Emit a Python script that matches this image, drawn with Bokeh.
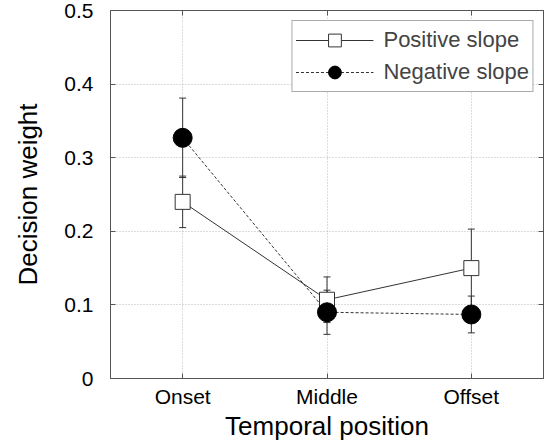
from bokeh.plotting import figure
from bokeh.models import (ColumnDataSource, Whisker, TeeHead, FixedTicker, LinearAxis,
                          Legend, LegendItem, Range1d)
from bokeh.embed import file_html
from bokeh.resources import INLINE

categories = ["Onset", "Middle", "Offset"]
xpos = [1, 2, 3]
pos_vals = [0.240, 0.107, 0.150]
pos_err = [0.035, 0.031, 0.053]
neg_vals = [0.327, 0.090, 0.087]
neg_err = [0.054, 0.030, 0.025]
yticks = [0, 0.1, 0.2, 0.3, 0.4, 0.5]
ytick_labels = ["0", "0.1", "0.2", "0.3", "0.4", "0.5"]

FONT = "Liberation Sans"
AX = "#555555"

p = figure(width=544, height=443, output_backend="svg", toolbar_location=None,
           x_range=Range1d(0.5, 3.5), y_range=Range1d(0, 0.5),
           min_border_left=110, min_border_right=1, min_border_top=10, min_border_bottom=65)
p.outline_line_color = AX
p.background_fill_color = "white"

src_p = ColumnDataSource(dict(x=xpos, y=pos_vals,
                              lo=[v - e for v, e in zip(pos_vals, pos_err)],
                              hi=[v + e for v, e in zip(pos_vals, pos_err)]))
src_n = ColumnDataSource(dict(x=xpos, y=neg_vals,
                              lo=[v - e for v, e in zip(neg_vals, neg_err)],
                              hi=[v + e for v, e in zip(neg_vals, neg_err)]))

for src in (src_p, src_n):
    w = Whisker(source=src, base="x", lower="lo", upper="hi", line_color="#333333", line_width=1,
                upper_head=TeeHead(size=7, line_color="#333333", line_width=1),
                lower_head=TeeHead(size=7, line_color="#333333", line_width=1))
    p.add_layout(w)

lp = p.line("x", "y", source=src_p, line_color="#333333", line_width=1)
ln = p.line("x", "y", source=src_n, line_color="#333333", line_width=1, line_dash="3 2")
sp = p.scatter("x", "y", source=src_p, marker="square", size=15, fill_color="white",
               line_color="#333333", line_width=1)
sn = p.scatter("x", "y", source=src_n, marker="circle", size=19, fill_color="black",
               line_color="black")

# axes
p.xaxis.ticker = FixedTicker(ticks=xpos)
p.xaxis.major_label_overrides = {x: c for x, c in zip(xpos, categories)}
p.yaxis.ticker = FixedTicker(ticks=yticks)
p.yaxis.major_label_overrides = {t: l for t, l in zip(yticks, ytick_labels)}
for ax in (p.xaxis[0], p.yaxis[0]):
    ax.axis_line_color = AX
    ax.major_tick_line_color = AX
    ax.major_tick_in = 5
    ax.major_tick_out = 0
    ax.minor_tick_line_color = None
    ax.major_label_text_font = FONT
    ax.major_label_text_font_size = "21px"
    ax.major_label_text_color = "black"
    ax.axis_label_text_font = FONT
    ax.axis_label_text_font_size = "26px"
    ax.axis_label_text_font_style = "normal"
    ax.axis_label_text_color = "black"
p.xaxis.axis_label = "Temporal position"
p.yaxis.axis_label = "Decision weight"
p.xaxis.major_label_standoff = 6
p.yaxis.major_label_standoff = 17
p.xaxis.axis_label_standoff = 0
p.yaxis.axis_label_standoff = 18

ra = LinearAxis(ticker=FixedTicker(ticks=yticks), major_label_text_color=None,
                axis_line_color=AX, major_tick_line_color=AX, major_tick_in=5,
                major_tick_out=0, minor_tick_line_color=None, major_label_text_font_size="0px",
                major_label_standoff=0)
p.add_layout(ra, "right")
ta = LinearAxis(ticker=FixedTicker(ticks=xpos), major_label_text_color=None,
                axis_line_color=AX, major_tick_line_color=AX, major_tick_in=5,
                major_tick_out=0, minor_tick_line_color=None, major_label_text_font_size="0px",
                major_label_standoff=0)
p.add_layout(ta, "above")

for g in (p.xgrid[0], p.ygrid[0]):
    g.grid_line_color = "#bbbbbb"
    g.grid_line_dash = "1 2"
    g.grid_line_width = 1

legend = Legend(items=[LegendItem(label="Positive slope", renderers=[lp, sp]),
                       LegendItem(label="Negative slope", renderers=[ln, sn])],
                location="top_right")
legend.label_text_font = FONT
legend.label_text_font_size = "22px"
legend.glyph_width = 78
legend.glyph_height = 32
legend.label_height = 26
legend.spacing = 0
legend.padding = 3
legend.margin = 10
legend.border_line_color = AX
legend.border_line_width = 1
legend.background_fill_alpha = 1
legend.label_standoff = 10
p.add_layout(legend, "center")

open("out.html", "w").write(file_html(p, INLINE))
